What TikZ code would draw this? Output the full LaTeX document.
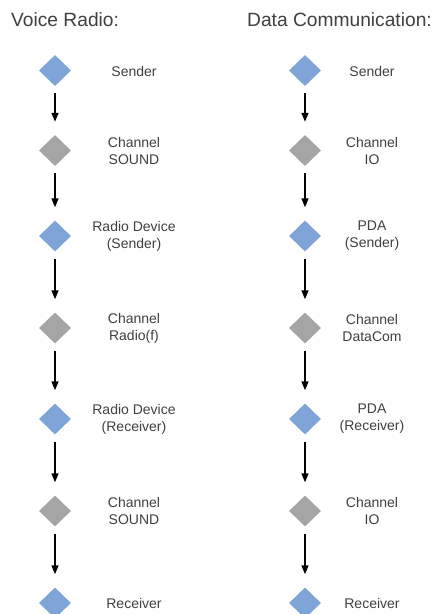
\documentclass[tikz,border=0pt]{standalone}
\usepackage{fontspec}
\setmainfont{Liberation Sans}
\usetikzlibrary{shapes.geometric,arrows.meta}
\definecolor{dblue}{HTML}{7FA4D7}
\definecolor{dgray}{HTML}{A5A5A5}
\definecolor{txt}{HTML}{404040}
\begin{document}
\begin{tikzpicture}[x=1pt,y=-1pt,
  blued/.style={diamond,fill=dblue,draw=none,minimum width=32pt,minimum height=31pt,inner sep=0pt},
  grayd/.style={diamond,fill=dgray,draw=none,minimum width=32pt,minimum height=31pt,inner sep=0pt},
  lbl/.style={align=center,text=txt,font=\fontsize{14}{17}\selectfont,inner sep=0pt},
  ttl/.style={anchor=base west,text=txt,font=\fontsize{19.2}{23}\selectfont,inner sep=0pt},
  flow/.style={-{Triangle[length=9pt,width=7pt]},line width=1.6pt,shorten <=7pt,shorten >=13pt}]
\useasboundingbox (0,0) rectangle (434,614);
\fill[white] (0,0) rectangle (434,614);
\node[ttl] (t1) at (11,26) {Voice Radio:};
\node[ttl] (t2) at (247,26) {Data Communication:};
% left column
\node[blued] (a1) at (55,70.5) {};
\node[grayd] (a2) at (55,150.5) {};
\node[blued] (a3) at (55,236) {};
\node[grayd] (a4) at (55,328) {};
\node[blued] (a5) at (55,419) {};
\node[grayd] (a6) at (55,511) {};
\node[blued] (a7) at (55,603) {};
\node[lbl] (la1) at (134,71) {Sender};
\node[lbl] (la2) at (134,151) {Channel\\SOUND};
\node[lbl] (la3) at (134,236) {Radio Device\\(Sender)};
\node[lbl] (la4) at (134,328) {Channel\\Radio(f)};
\node[lbl] (la5) at (134,419) {Radio Device\\(Receiver)};
\node[lbl] (la6) at (134,511) {Channel\\SOUND};
\node[lbl] (la7) at (134,603) {Receiver};
% right column
\node[blued] (b1) at (305,70.5) {};
\node[grayd] (b2) at (305,150.5) {};
\node[blued] (b3) at (305,236) {};
\node[grayd] (b4) at (305,328) {};
\node[blued] (b5) at (305,419) {};
\node[grayd] (b6) at (305,511) {};
\node[blued] (b7) at (305,603) {};
\node[lbl] (lb1) at (372,71) {Sender};
\node[lbl] (lb2) at (372,151) {Channel\\IO};
\node[lbl] (lb3) at (372,236) {PDA\\(Sender)};
\node[lbl] (lb4) at (372,328) {Channel\\DataCom};
\node[lbl] (lb5) at (372,419) {PDA\\(Receiver)};
\node[lbl] (lb6) at (372,511) {Channel\\IO};
\node[lbl] (lb7) at (372,603) {Receiver};
\foreach \i/\j in {1/2,2/3,3/4,4/5,5/6,6/7}{
  \draw[flow] (a\i.south) -- (a\j.north);
  \draw[flow] (b\i.south) -- (b\j.north);
}
\end{tikzpicture}
\end{document}
